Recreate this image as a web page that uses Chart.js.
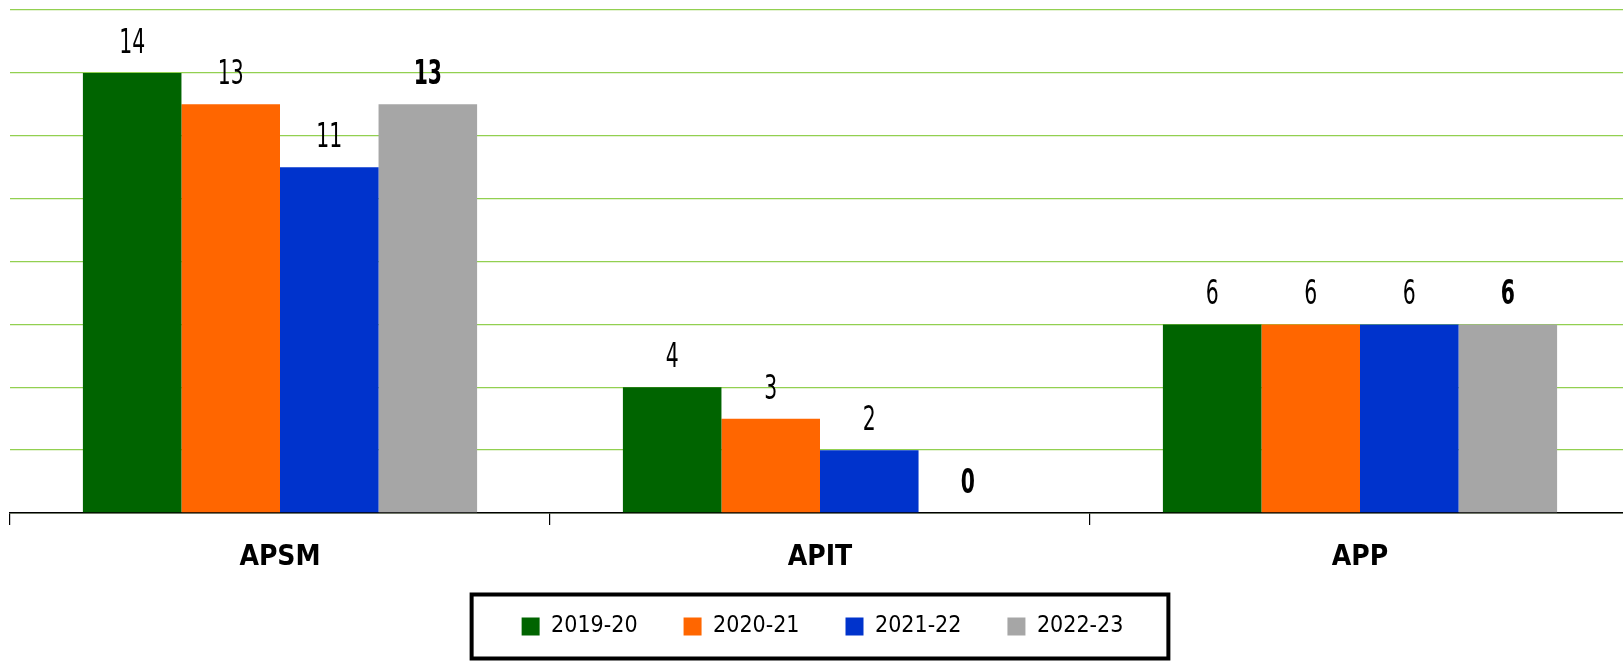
<!DOCTYPE html>
<html>
<head>
<meta charset="utf-8">
<script src="https://cdn.jsdelivr.net/npm/chart.js@4.4.1/dist/chart.umd.min.js"></script>
<style>
  html, body { margin: 0; padding: 0; background: #fff; }
  #wrap { width: 1623px; height: 664px; }
</style>
</head>
<body>
<div id="wrap"><canvas id="chart1"></canvas></div>
<script>
var categories = ['APSM', 'APIT', 'APP'];
var seriesNames = ['2019-20', '2020-21', '2021-22', '2022-23'];
var s2019 = [14, 4, 6];
var s2020 = [13, 3, 6];
var s2021 = [11, 2, 6];
var s2022 = [13, 0, 6];
var yTicks = [0, 2, 4, 6, 8, 10, 12, 14, 16];

var FONT = "'DejaVu Sans Condensed', 'DejaVu Sans', sans-serif";
var colors = ['#006400', '#FF6600', '#0033CC', '#A6A6A6'];

// value labels above bars (squeezed to look like a condensed face)
var valueLabels = {
    id: 'valueLabels',
    afterDatasetsDraw: function(chart) {
        var ctx = chart.ctx;
        chart.data.datasets.forEach(function(ds, di) {
            var meta = chart.getDatasetMeta(di);
            meta.data.forEach(function(bar, i) {
                ctx.save();
                ctx.fillStyle = '#000';
                ctx.textAlign = 'center';
                ctx.textBaseline = 'middle';
                ctx.font = (di === 3 ? 'bold ' : '') + "34px 'DejaVu Sans', sans-serif";
                ctx.translate(bar.x, bar.y - 29);
                ctx.scale(0.6, 1);
                ctx.fillText(String(ds.data[i]), 0, 0);
                ctx.restore();
            });
        });
    }
};

// the category axis runs a little past the right edge; legend sits just under the labels
var layoutTweak = {
    id: 'layoutTweak',
    afterLayout: function(chart) {
        var x = chart.scales.x;
        x.right = x.left + 1620;
        x.width = 1620;
        x.configure();
        var lg = chart.legend;
        if (lg) {
            lg.top -= 9;
            lg.bottom -= 9;
            lg.left += 6;
            lg.right += 6;
        }
    }
};

// black frame round the legend
var legendFrame = {
    id: 'legendFrame',
    afterDraw: function(chart) {
        var lg = chart.legend;
        if (!lg || !lg.legendHitBoxes.length) return;
        var hb = lg.legendHitBoxes;
        var left = hb[0].left, right = hb[hb.length - 1].left + hb[hb.length - 1].width;
        var cy = hb[0].top + hb[0].height / 2;
        var ctx = chart.ctx;
        ctx.save();
        ctx.strokeStyle = '#000';
        ctx.lineWidth = 4;
        ctx.strokeRect(left - 50, cy - 32, (right - left) + 95, 64);
        ctx.restore();
    }
};

var ctx = document.getElementById('chart1').getContext('2d');
var chartBar = new Chart(ctx, {
    type: 'bar',
    data: {
        labels: categories,
        datasets: [
            { label: seriesNames[0], data: s2019, backgroundColor: colors[0] },
            { label: seriesNames[1], data: s2020, backgroundColor: colors[1] },
            { label: seriesNames[2], data: s2021, backgroundColor: colors[2] },
            { label: seriesNames[3], data: s2022, backgroundColor: colors[3] }
        ]
    },
    options: {
        responsive: true,
        maintainAspectRatio: false,
        animation: false,
        datasets: { bar: { categoryPercentage: 0.73, barPercentage: 1.0, borderWidth: 0 } },
        layout: { padding: { left: 10, right: 0, top: 10, bottom: 9 } },
        scales: {
            x: {
                afterFit: function(scale) { scale.height = 65; },
                grid: { display: true, drawOnChartArea: false, drawTicks: true, tickLength: 12, color: '#000', lineWidth: 1.2 },
                border: { display: true, color: '#000', width: 1.5 },
                ticks: { color: '#000', padding: 16, font: { family: FONT, size: 28, weight: 'bold' } }
            },
            y: {
                min: 0,
                max: 16,
                afterFit: function(scale) { scale.width = 0; },
                afterBuildTicks: function(scale) { scale.ticks = yTicks.map(function(v) { return { value: v }; }); },
                ticks: { display: false },
                grid: { color: '#92D050', lineWidth: 1.3, drawTicks: false },
                border: { display: false }
            }
        },
        plugins: {
            tooltip: { enabled: false },
            legend: {
                position: 'bottom',
                maxHeight: 77,
                labels: {
                    color: '#000',
                    boxWidth: 18,
                    boxHeight: 18,
                    padding: 46,
                    font: { family: FONT, size: 23 }
                }
            }
        }
    },
    plugins: [layoutTweak, valueLabels, legendFrame]
});
</script>
</body>
</html>
